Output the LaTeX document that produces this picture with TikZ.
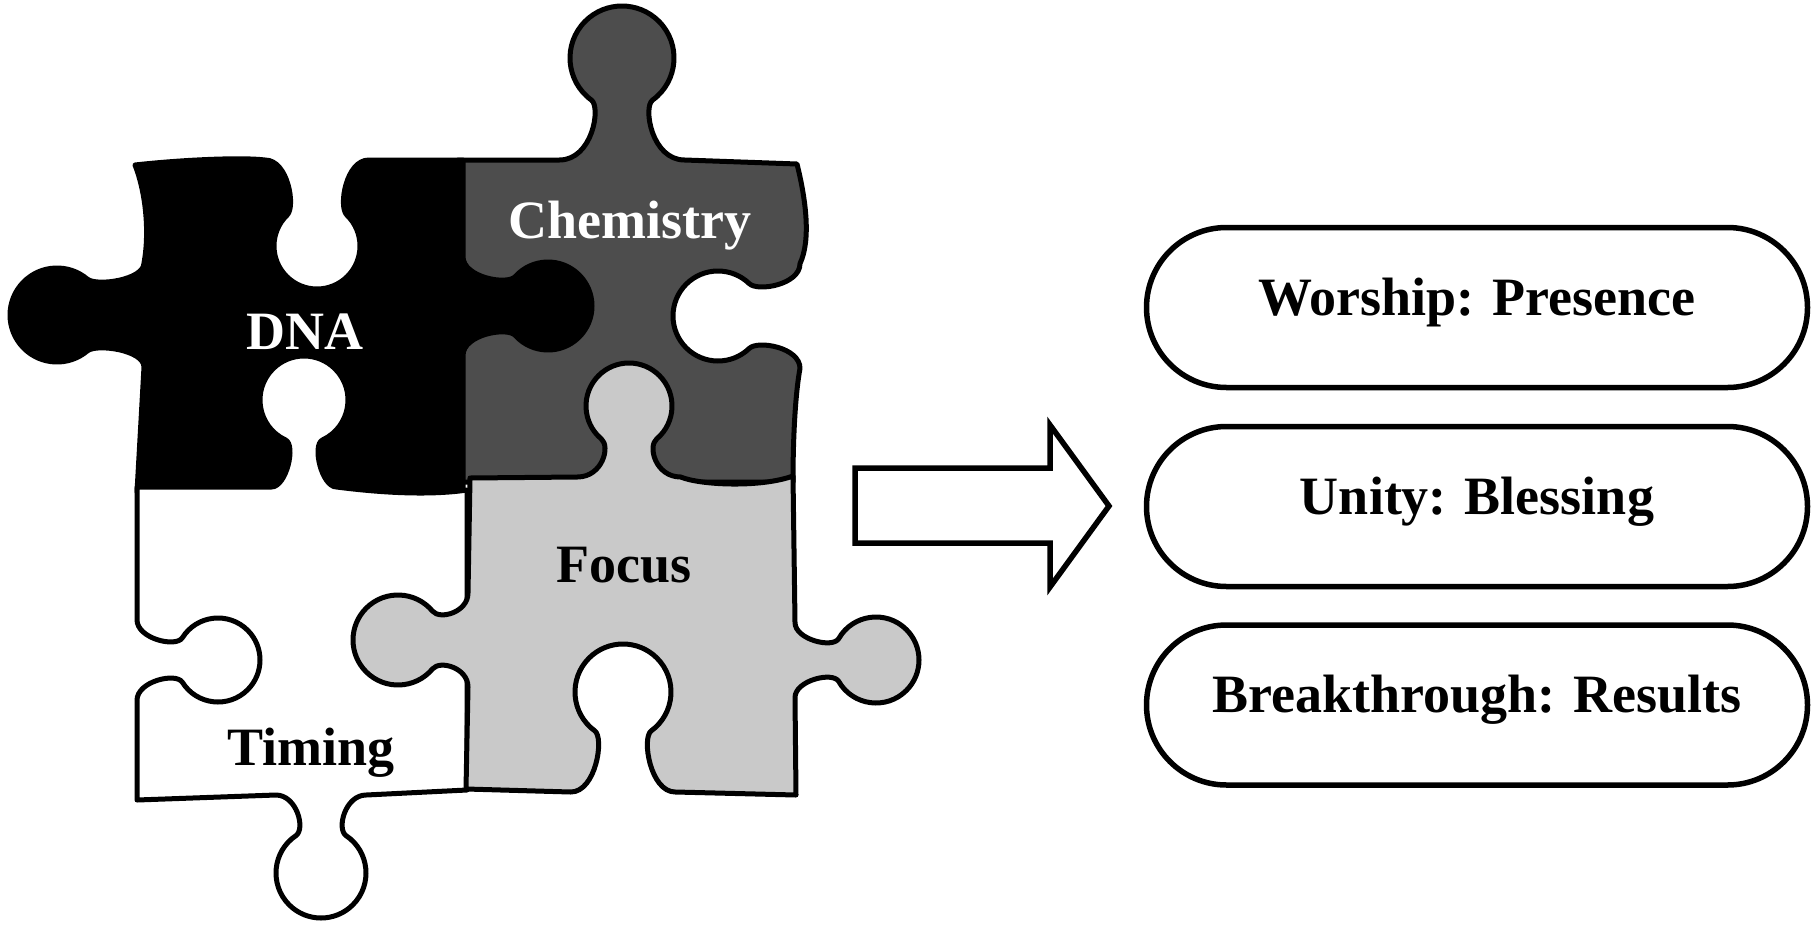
\documentclass[tikz,border=0pt]{standalone}
\usepackage{fontspec}
\setmainfont{Liberation Serif}
\usetikzlibrary{shapes.misc}
\definecolor{chemgray}{RGB}{77,77,77}
\definecolor{focgray}{RGB}{201,201,201}
% name, cx, cy, rot, s, alpha, D, R, flare
\newcommand\defknob[9]{%
\begin{scope}[shift={(#2,#3)},rotate=#4]
\pgfmathsetmacro\kN{-1*(#5)}%
\pgfmathsetmacro\kD{#7}%
\pgfmathsetmacro\kR{#8}%
\pgfmathsetmacro\kF{#9}%
\pgfmathsetmacro\ksa{sin(#6)}%
\pgfmathsetmacro\kca{cos(#6)}%
\pgfmathsetmacro\kk{4/3*tan((135-#6)/4)*\kR}%
\pgfmathsetmacro\kq{0.5523*\kR}%
\pgfmathsetmacro\kjx{\kR*\ksa}%
\pgfmathsetmacro\kjy{\kD-\kR*\kca}%
\pgfmathsetmacro\kc{0.7071*\kR}%
\coordinate (#1-0) at ({-\kjx-\kF},0);
\coordinate (#1-1) at ({-\kjx+1},0);
\coordinate (#1-2) at ({-\kjx+12*\kca},{\kN*(\kjy-12*\ksa)});
\coordinate (#1-3) at ({-\kjx},{\kN*\kjy});
\coordinate (#1-4) at ({-\kjx-\kk*\kca},{\kN*(\kjy+\kk*\ksa)});
\coordinate (#1-5) at ({-\kc-0.7071*\kk},{\kN*(\kD+\kc-0.7071*\kk)});
\coordinate (#1-6) at ({-\kc},{\kN*(\kD+\kc)});
\coordinate (#1-7) at ({-\kc+0.7071*\kq},{\kN*(\kD+\kc+0.7071*\kq)});
\coordinate (#1-8) at ({\kc-0.7071*\kq},{\kN*(\kD+\kc+0.7071*\kq)});
\coordinate (#1-9) at ({\kc},{\kN*(\kD+\kc)});
\coordinate (#1-10) at ({\kc+0.7071*\kk},{\kN*(\kD+\kc-0.7071*\kk)});
\coordinate (#1-11) at ({\kjx+\kk*\kca},{\kN*(\kjy+\kk*\ksa)});
\coordinate (#1-12) at ({\kjx},{\kN*\kjy});
\coordinate (#1-13) at ({\kjx-12*\kca},{\kN*(\kjy-12*\ksa)});
\coordinate (#1-14) at ({\kjx-1},0);
\coordinate (#1-15) at ({\kjx+\kF},0);
\end{scope}}
\newcommand\kp[1]{(#1-0) .. controls (#1-1) and (#1-2) .. (#1-3) .. controls (#1-4) and (#1-5) .. (#1-6) .. controls (#1-7) and (#1-8) .. (#1-9) .. controls (#1-10) and (#1-11) .. (#1-12) .. controls (#1-13) and (#1-14) .. (#1-15)}
\tikzset{
 piece/.style={draw=black, line width=5pt, line join=round},
 pill/.style={draw=black, line width=5.5pt, rounded rectangle, minimum width=661pt, minimum height=160pt, inner sep=0pt, fill=white},
 lbl/.style={font=\fontsize{54}{60}\selectfont\bfseries, inner sep=0pt},
 bigarrow/.style={draw=black, line width=5.5pt, fill=white, line join=miter}
}
\begin{document}
\begin{tikzpicture}[x=1pt,y=-1pt]
\useasboundingbox[fill=white] (0,0) rectangle (1815,924);
% knob definitions: name, cx, cy, rot, s, alpha, D, R, flare
\defknob{dT}{317}{160}{0}{-1}{44}{86}{43}{22}
\defknob{dR}{463}{306}{-90}{1}{42}{85}{44}{20}
\defknob{dL}{144}{315}{90}{1}{50}{87}{47}{16}
\defknob{cT}{622}{160}{0}{1}{36}{102}{52}{32}
\defknob{cR}{800}{316}{-90}{-1}{46}{82}{45}{20}
\defknob{tT}{304}{487}{0}{1}{25}{87}{44}{14}
\defknob{tB}{321}{795}{180}{1}{34}{78}{45}{20}
\defknob{tL}{137}{660}{90}{-1}{32}{81}{42}{18}
\defknob{fT}{629}{477}{0}{1}{40}{71}{43}{24}
\defknob{fR}{795}{660}{-90}{1}{30}{81}{43}{16}
\defknob{fB}{623}{792}{180}{-1}{36}{100}{48}{24}
\defknob{fL}{468}{640}{90}{1}{40}{70}{45}{18}
% Chemistry
\path[piece, fill=chemgray] (458,160) -- \kp{cT} -- (797,164)
  .. controls (806,200) and (811,240) .. \kp{cR}
  .. controls (796,390) and (793,430) .. (793,482) -- (458,482) -- cycle;
% DNA
\path[piece, fill=black] (135,165) .. controls (180,160) and (240,157) .. \kp{dT}
  -- (463,160) -- \kp{dR} -- (463,492) -- (137,492) -- \kp{dL}
  .. controls (150,230) and (145,190) .. (135,165) -- cycle;
% Timing
\path[piece, fill=white] (137,487) -- \kp{tT}
  .. controls (360,490) and (420,497) .. (467,490) -- (467,790)
  -- \kp{tB} -- (137,800) -- \kp{tL} -- cycle;
% Focus
\path[piece, fill=focgray] (470,478) -- \kp{fT}
  .. controls (700,485) and (760,488) .. (793,476) -- \kp{fR}
  -- (796,795) -- \kp{fB} -- (466,789) -- \kp{fL} -- cycle;
% labels on pieces
\node[lbl, text=white, anchor=base] (tchem) at (630,238) {Chemistry};
\node[lbl, text=white, anchor=base] (tdna) at (305,349) {DNA};
\node[lbl, anchor=base] (tfoc) at (624,582) {Focus};
\node[lbl, anchor=base] (ttim) at (311,765) {Timing};
% arrow
\path[bigarrow] (855,468) -- (1050,468) -- (1050,425) -- (1109,506)
  -- (1050,587) -- (1050,543) -- (855,543) -- cycle;
% pills
\node[pill] (p1) at (1477,307.5) {};
\node[pill] (p2) at (1477,506.5) {};
\node[pill] (p3) at (1477,705) {};
\node[lbl, anchor=base] (l1) at (1477,315) {Worship: Presence};
\node[lbl, anchor=base] (l2) at (1477,514) {Unity: Blessing};
\node[lbl, anchor=base] (l3) at (1477,712.5) {Breakthrough: Results};
\end{tikzpicture}
\end{document}
